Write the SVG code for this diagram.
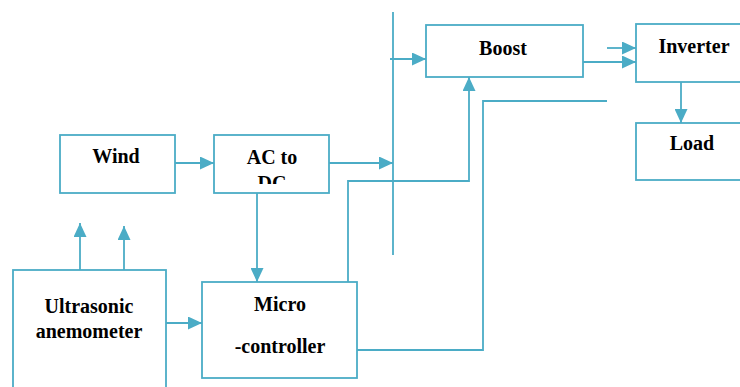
<svg xmlns="http://www.w3.org/2000/svg" width="740" height="387" viewBox="0 0 740 387">
<defs>
<style>
.box{fill:#fff;stroke:#4bacc6;stroke-width:1.8}
.ln{fill:none;stroke:#4bacc6;stroke-width:1.8}
.t{font-family:"Liberation Serif","Times New Roman","DejaVu Serif",serif;font-weight:700;font-size:20px;fill:#000;text-anchor:middle}
</style>
<marker id="ah" markerUnits="userSpaceOnUse" markerWidth="14" markerHeight="13" refX="14" refY="6.5" orient="auto">
<path d="M0,0 L14,6.5 L0,13 z" fill="#4bacc6"/>
</marker>
<clipPath id="acclip"><rect x="214" y="135" width="115" height="49"/></clipPath>
</defs>
<rect width="740" height="387" fill="#fff"/>
<g id="connectors">
<line class="ln" x1="175" y1="163" x2="214" y2="163" marker-end="url(#ah)"/>
<line class="ln" x1="329" y1="163" x2="393" y2="163" marker-end="url(#ah)"/>
<line class="ln" x1="393" y1="12" x2="393" y2="255"/>
<line class="ln" x1="390" y1="59" x2="426" y2="59" marker-end="url(#ah)"/>
<line class="ln" x1="257" y1="193" x2="257" y2="282" marker-end="url(#ah)"/>
<line class="ln" x1="80" y1="270" x2="80" y2="223" marker-end="url(#ah)"/>
<line class="ln" x1="124" y1="270" x2="124" y2="226" marker-end="url(#ah)"/>
<line class="ln" x1="166" y1="323" x2="202" y2="323" marker-end="url(#ah)"/>
<polyline class="ln" points="348,286 348,181 469,181 469,77" marker-end="url(#ah)"/>
<polyline class="ln" points="357,350 483,350 483,101 607,101"/>
<line class="ln" x1="583" y1="62" x2="636" y2="62" marker-end="url(#ah)"/>
<line class="ln" x1="607" y1="48" x2="636" y2="48" marker-end="url(#ah)"/>
<line class="ln" x1="681" y1="82" x2="681" y2="123" marker-end="url(#ah)"/>
</g>
<g id="wind">
<rect class="box" x="60" y="135" width="115" height="58"/>
<text class="t" x="116" y="163" font-family="Liberation Serif, serif">Wind</text>
</g>
<g id="acdc">
<rect class="box" x="214" y="135" width="115" height="58"/>
<text class="t" x="272" y="164" font-family="Liberation Serif, serif">AC to</text>
<text class="t" x="272" y="190" font-family="Liberation Serif, serif" clip-path="url(#acclip)">DC</text>
</g>
<g id="ultrasonic">
<rect class="box" x="13" y="270" width="153" height="140"/>
<text class="t" x="89" y="313" font-family="Liberation Serif, serif">Ultrasonic</text>
<text class="t" x="89" y="338" font-family="Liberation Serif, serif">anemometer</text>
</g>
<g id="micro">
<rect class="box" x="202" y="282" width="155" height="96"/>
<text class="t" x="280" y="311" font-family="Liberation Serif, serif">Micro</text>
<text class="t" x="280" y="353" font-family="Liberation Serif, serif">-controller</text>
</g>
<g id="boost">
<rect class="box" x="426" y="25" width="157" height="52"/>
<text class="t" x="503" y="55" font-family="Liberation Serif, serif">Boost</text>
</g>
<g id="inverter">
<rect class="box" x="636" y="24" width="130" height="58"/>
<text class="t" x="694" y="53" font-family="Liberation Serif, serif">Inverter</text>
</g>
<g id="load">
<rect class="box" x="636" y="123" width="130" height="57"/>
<text class="t" x="692" y="150" font-family="Liberation Serif, serif">Load</text>
</g>
</svg>
